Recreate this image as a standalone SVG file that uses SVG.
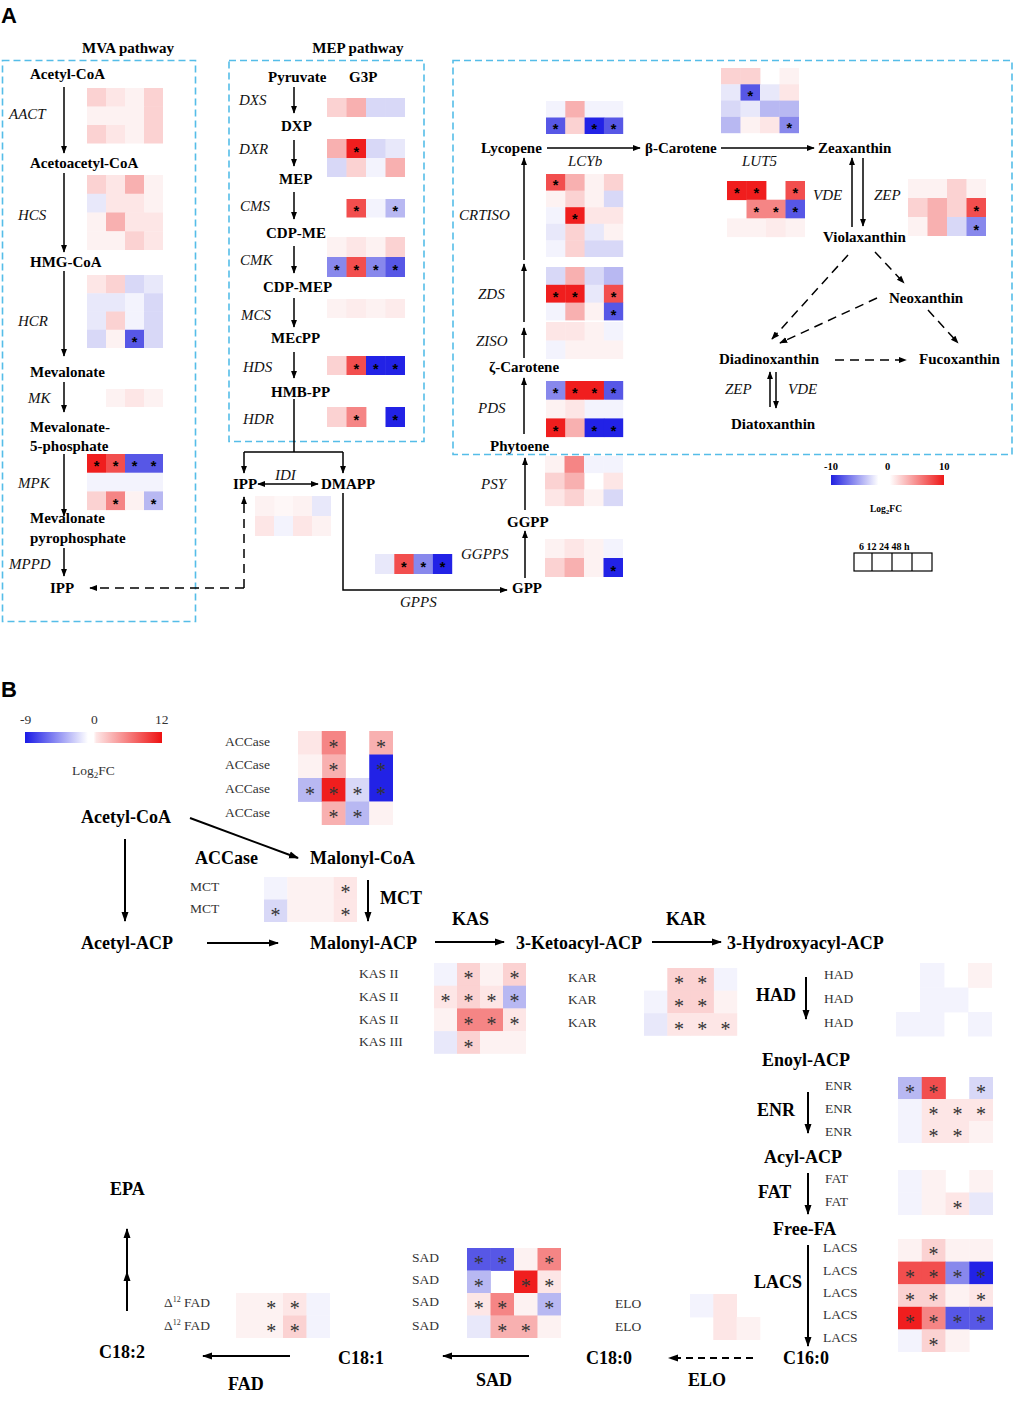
<svg xmlns="http://www.w3.org/2000/svg" width="1014" height="1413" viewBox="0 0 1014 1413">
<style>
.n{font-family:"Liberation Serif",serif;font-weight:bold;font-size:15px;fill:#000}
.g{font-family:"Liberation Serif",serif;font-style:italic;font-size:15px;fill:#111}
.nb{font-family:"Liberation Serif",serif;font-weight:bold;font-size:18px;fill:#000}
.gb{font-family:"Liberation Serif",serif;font-size:13.5px;fill:#333}
.sa{font-family:"Liberation Sans",sans-serif;font-weight:bold;font-size:14.5px;text-anchor:middle;fill:#000}
.sb{font-family:"Liberation Serif",serif;font-size:20px;text-anchor:middle;fill:#333}
.lab{font-family:"Liberation Sans",sans-serif;font-weight:bold;font-size:22px}
.box{fill:none;stroke:#55bde8;stroke-width:1.6;stroke-dasharray:7 4}
.ca path,.ca line{fill:none;stroke:#000;stroke-width:1.5}
.cb path{fill:none;stroke:#000;stroke-width:2}
.d{stroke-dasharray:9 6}
.r5{fill:#f01e1e}.r4{fill:#f24e4e}.r3{fill:#f58585}.r2{fill:#f8b0b0}.r1{fill:#fbd2d2}.r0{fill:#fde6e6}.rf{fill:#fdf2f2}
.b5{fill:#2222e6}.b4{fill:#5757e6}.b3{fill:#8888ec}.b2{fill:#b8b8f2}.b1{fill:#d8d8f7}.b0{fill:#e8e8fa}.bf{fill:#f3f3fd}
</style>
<defs>
<marker id="ah" viewBox="0 0 10 10" refX="9" refY="5" markerWidth="8" markerHeight="8" markerUnits="userSpaceOnUse" orient="auto-start-reverse"><path d="M0,1.2 L10,5 L0,8.8 z" fill="#000"/></marker>
<marker id="ahb" viewBox="0 0 10 10" refX="9" refY="5" markerWidth="10" markerHeight="10" markerUnits="userSpaceOnUse" orient="auto-start-reverse"><path d="M0,1.5 L10,5 L0,8.5 z" fill="#000"/></marker>
<linearGradient id="gA" x1="0" x2="1" y1="0" y2="0"><stop offset="0" stop-color="#2020e0"/><stop offset="0.42" stop-color="#ffffff"/><stop offset="0.52" stop-color="#ffffff"/><stop offset="1" stop-color="#ee1818"/></linearGradient>
<linearGradient id="gB" x1="0" x2="1" y1="0" y2="0"><stop offset="0" stop-color="#1a1ae6"/><stop offset="0.46" stop-color="#ffffff"/><stop offset="0.5" stop-color="#ffffff"/><stop offset="0.52" stop-color="#fde6e6"/><stop offset="1" stop-color="#ee1111"/></linearGradient>
</defs>
<rect width="1014" height="1413" fill="#fff"/>

<!-- Panel labels -->
<text class="lab" x="1" y="23">A</text>
<text class="lab" x="1" y="697">B</text>

<!-- dashed boxes -->
<g id="boxes">
<rect class="box" x="2.5" y="60.5" width="193" height="561"/>
<rect class="box" x="229" y="60.5" width="195" height="381"/>
<rect class="box" x="453" y="60.5" width="559" height="394"/>
</g>
<text class="n" x="128" y="53" text-anchor="middle">MVA pathway</text>
<text class="n" x="358" y="53" text-anchor="middle">MEP pathway</text>

<!-- Connectors A -->
<g id="connectors-A" class="ca">
<path d="M64,87 V153" marker-end="url(#ah)"/>
<path d="M64,173 V252" marker-end="url(#ah)"/>
<path d="M64,271 V356" marker-end="url(#ah)"/>
<path d="M64,382 V412" marker-end="url(#ah)"/>
<path d="M64,454 V516" marker-end="url(#ah)"/>
<path d="M64,548 V576" marker-end="url(#ah)"/>
<path d="M294,87 V113" marker-end="url(#ah)"/>
<path d="M294,140 V166" marker-end="url(#ah)"/>
<path d="M294,192 V219" marker-end="url(#ah)"/>
<path d="M294,246 V273" marker-end="url(#ah)"/>
<path d="M294,298 V327" marker-end="url(#ah)"/>
<path d="M294,352 V378" marker-end="url(#ah)"/>
<path d="M294,399 V452"/>
<path d="M244,452 H343"/>
<path d="M244,452 V473" marker-end="url(#ah)"/>
<path d="M343,452 V473" marker-end="url(#ah)"/>
<path d="M258,484 H318" marker-start="url(#ah)" marker-end="url(#ah)"/>
<path class="d" d="M244,588 H90" marker-end="url(#ah)"/>
<path class="d" d="M244,588 V497" marker-end="url(#ah)"/>
<path d="M343,493 V590 H507" marker-end="url(#ah)"/>
<path d="M525,578 V531" marker-end="url(#ah)"/>
<path d="M525,510 V458" marker-end="url(#ah)"/>
<path d="M524,434 V378" marker-end="url(#ah)"/>
<path d="M524,358 V328" marker-end="url(#ah)"/>
<path d="M524,322 V264" marker-end="url(#ah)"/>
<path d="M524,260 V158" marker-end="url(#ah)"/>
<path d="M547,148 H640" marker-end="url(#ah)"/>
<path d="M721,148 H814" marker-end="url(#ah)"/>
<path d="M852,227 V158" marker-end="url(#ah)"/>
<path d="M863,158 V226" marker-end="url(#ah)"/>
<path class="d" d="M848,255 L772,339" marker-end="url(#ah)"/>
<path class="d" d="M875,252 L904,283" marker-end="url(#ah)"/>
<path class="d" d="M877,298 L780,343" marker-end="url(#ah)"/>
<path class="d" d="M928,310 L958,343" marker-end="url(#ah)"/>
<path class="d" d="M835,360 H906" marker-end="url(#ah)"/>
<path d="M770,407 V372" marker-end="url(#ah)"/>
<path d="M776,372 V408" marker-end="url(#ah)"/>
</g>

<!-- MVA nodes -->
<g id="mva-nodes">
<text class="n" x="30" y="79">Acetyl-CoA</text>
<text class="n" x="30" y="168">Acetoacetyl-CoA</text>
<text class="n" x="30" y="267">HMG-CoA</text>
<text class="n" x="30" y="377">Mevalonate</text>
<text class="n" x="30" y="432">Mevalonate-</text>
<text class="n" x="30" y="451">5-phosphate</text>
<text class="n" x="30" y="523">Mevalonate</text>
<text class="n" x="30" y="543">pyrophosphate</text>
<text class="n" x="50" y="593">IPP</text>
<text class="g" x="9" y="119">AACT</text>
<text class="g" x="18" y="220">HCS</text>
<text class="g" x="18" y="326">HCR</text>
<text class="g" x="28" y="403">MK</text>
<text class="g" x="18" y="488">MPK</text>
<text class="g" x="9" y="569">MPPD</text>
</g>

<!-- MVA heatmaps -->
<g id="hm-AACT" transform="translate(87,88)">
<rect class="r1" x="0" y="0" width="19.4" height="18.9"/><rect class="r0" x="19" y="0" width="19.4" height="18.9"/><rect class="rf" x="38" y="0" width="19.4" height="18.9"/><rect class="r1" x="57" y="0" width="19" height="18.9"/>
<rect class="rf" x="0" y="18.5" width="19.4" height="18.9"/><rect class="rf" x="19" y="18.5" width="19.4" height="18.9"/><rect class="rf" x="38" y="18.5" width="19.4" height="18.9"/><rect class="r1" x="57" y="18.5" width="19" height="18.9"/>
<rect class="r1" x="0" y="37" width="19.4" height="18.5"/><rect class="r0" x="19" y="37" width="19.4" height="18.5"/><rect class="rf" x="38" y="37" width="19.4" height="18.5"/><rect class="r1" x="57" y="37" width="19" height="18.5"/>
</g>
<g id="hm-HCS" transform="translate(87,175)">
<rect class="r1" x="0" y="0" width="19.4" height="19.1"/><rect class="r0" x="19" y="0" width="19.4" height="19.1"/><rect class="r2" x="38" y="0" width="19.4" height="19.1"/><rect class="rf" x="57" y="0" width="19" height="19.1"/>
<rect class="b0" x="0" y="18.75" width="19.4" height="19.1"/><rect class="r0" x="19" y="18.75" width="19.4" height="19.1"/><rect class="r0" x="38" y="18.75" width="19.4" height="19.1"/><rect class="rf" x="57" y="18.75" width="19" height="19.1"/>
<rect class="rf" x="0" y="37.5" width="19.4" height="19.1"/><rect class="r2" x="19" y="37.5" width="19.4" height="19.1"/><rect class="r0" x="38" y="37.5" width="19.4" height="19.1"/><rect class="r0" x="57" y="37.5" width="19" height="19.1"/>
<rect class="rf" x="0" y="56.25" width="19.4" height="18.75"/><rect class="rf" x="19" y="56.25" width="19.4" height="18.75"/><rect class="r1" x="38" y="56.25" width="19.4" height="18.75"/><rect class="r0" x="57" y="56.25" width="19" height="18.75"/>
</g>
<g id="hm-HCR" transform="translate(87,275)">
<rect class="r0" x="0" y="0" width="19.4" height="18.6"/><rect class="r1" x="19" y="0" width="19.4" height="18.6"/><rect class="b1" x="38" y="0" width="19.4" height="18.6"/><rect class="b0" x="57" y="0" width="19" height="18.6"/>
<rect class="b0" x="0" y="18.25" width="19.4" height="18.6"/><rect class="b0" x="19" y="18.25" width="19.4" height="18.6"/><rect class="bf" x="38" y="18.25" width="19.4" height="18.6"/><rect class="b1" x="57" y="18.25" width="19" height="18.6"/>
<rect class="b0" x="0" y="36.5" width="19.4" height="18.6"/><rect class="r1" x="19" y="36.5" width="19.4" height="18.6"/><rect class="bf" x="38" y="36.5" width="19.4" height="18.6"/><rect class="b1" x="57" y="36.5" width="19" height="18.6"/>
<rect class="b1" x="0" y="54.75" width="19.4" height="18.25"/><rect class="rf" x="19" y="54.75" width="19.4" height="18.25"/><rect class="b4" x="38" y="54.75" width="19.4" height="18.25"/><rect class="b1" x="57" y="54.75" width="19" height="18.25"/>
<text class="sa" x="47.5" y="72">*</text>
</g>
<g id="hm-MK" transform="translate(87,389)">
<rect class="rf" x="19" y="0" width="19.4" height="18"/><rect class="r0" x="38" y="0" width="19.4" height="18"/><rect class="rf" x="57" y="0" width="19" height="18"/>
</g>
<g id="hm-MPK" transform="translate(87,454)">
<rect class="r5" x="0" y="0" width="19.4" height="19"/><rect class="r4" x="19" y="0" width="19.4" height="19"/><rect class="b4" x="38" y="0" width="19.4" height="19"/><rect class="b4" x="57" y="0" width="19" height="19"/>
<rect class="bf" x="0" y="18.7" width="76" height="19"/>
<rect class="r1" x="0" y="37.4" width="19.4" height="18.7"/><rect class="r3" x="19" y="37.4" width="19.4" height="18.7"/><rect class="rf" x="38" y="37.4" width="19.4" height="18.7"/><rect class="b2" x="57" y="37.4" width="19" height="18.7"/>
<text class="sa" x="9.5" y="17.4">*</text><text class="sa" x="28.5" y="17.4">*</text><text class="sa" x="47.5" y="17.4">*</text><text class="sa" x="66.5" y="17.4">*</text>
<text class="sa" x="28.5" y="54.8">*</text><text class="sa" x="66.5" y="54.8">*</text>
</g>

<!-- MEP nodes -->
<g id="mep-nodes">
<text class="n" x="268" y="82">Pyruvate</text>
<text class="n" x="349" y="82">G3P</text>
<text class="n" x="281" y="131">DXP</text>
<text class="n" x="279" y="184">MEP</text>
<text class="n" x="266" y="238">CDP-ME</text>
<text class="n" x="263" y="292">CDP-MEP</text>
<text class="n" x="271" y="343">MEcPP</text>
<text class="n" x="271" y="397">HMB-PP</text>
<text class="g" x="239" y="105">DXS</text>
<text class="g" x="239" y="154">DXR</text>
<text class="g" x="240" y="211">CMS</text>
<text class="g" x="240" y="265">CMK</text>
<text class="g" x="241" y="320">MCS</text>
<text class="g" x="243" y="372">HDS</text>
<text class="g" x="243" y="424">HDR</text>
<text class="n" x="233" y="489">IPP</text>
<text class="n" x="321" y="489">DMAPP</text>
<text class="g" x="275" y="480">IDI</text>
</g>

<!-- MEP heatmaps -->
<g id="hm-DXS" transform="translate(327,98)">
<rect class="r1" x="0" y="0" width="19.9" height="19"/><rect class="r2" x="19.5" y="0" width="19.9" height="19"/><rect class="b1" x="39" y="0" width="19.9" height="19"/><rect class="b1" x="58.5" y="0" width="19.5" height="19"/>
</g>
<g id="hm-DXR" transform="translate(327,139)">
<rect class="r2" x="0" y="0" width="19.9" height="19.4"/><rect class="r5" x="19.5" y="0" width="19.9" height="19.4"/><rect class="b1" x="39" y="0" width="19.9" height="19.4"/><rect class="b0" x="58.5" y="0" width="19.5" height="19.4"/>
<rect class="b1" x="0" y="19" width="19.9" height="19"/><rect class="r1" x="19.5" y="19" width="19.9" height="19"/><rect class="bf" x="39" y="19" width="19.9" height="19"/><rect class="r2" x="58.5" y="19" width="19.5" height="19"/>
<text class="sa" x="29.25" y="17.5">*</text>
</g>
<g id="hm-CMS" transform="translate(327,199)">
<rect class="r4" x="19.5" y="0" width="19.9" height="18.5"/><rect class="bf" x="39" y="0" width="19.9" height="18.5"/><rect class="b2" x="58.5" y="0" width="19.5" height="18.5"/>
<text class="sa" x="29.25" y="17.3">*</text><text class="sa" x="68.25" y="17.3">*</text>
</g>
<g id="hm-CMK" transform="translate(327,237)">
<rect class="rf" x="0" y="0" width="19.9" height="20.4"/><rect class="r0" x="19.5" y="0" width="19.9" height="20.4"/><rect class="rf" x="39" y="0" width="19.9" height="20.4"/><rect class="r1" x="58.5" y="0" width="19.5" height="20.4"/>
<rect class="b3" x="0" y="20" width="19.9" height="20"/><rect class="r4" x="19.5" y="20" width="19.9" height="20"/><rect class="b3" x="39" y="20" width="19.9" height="20"/><rect class="b4" x="58.5" y="20" width="19.5" height="20"/>
<text class="sa" x="9.75" y="38">*</text><text class="sa" x="29.25" y="38">*</text><text class="sa" x="48.75" y="38">*</text><text class="sa" x="68.25" y="38">*</text>
</g>
<g id="hm-MCS" transform="translate(327,299)">
<rect class="rf" x="0" y="0" width="78" height="19"/><rect class="r0" x="19.5" y="0" width="19.5" height="19" opacity="0.5"/><rect class="r0" x="58.5" y="0" width="19.5" height="19" opacity="0.6"/>
</g>
<g id="hm-HDS" transform="translate(327,356)">
<rect class="r1" x="0" y="0" width="19.9" height="19"/><rect class="r4" x="19.5" y="0" width="19.9" height="19"/><rect class="b5" x="39" y="0" width="19.9" height="19"/><rect class="b5" x="58.5" y="0" width="19.5" height="19"/>
<text class="sa" x="29.25" y="17.5">*</text><text class="sa" x="48.75" y="17.5">*</text><text class="sa" x="68.25" y="17.5">*</text>
</g>
<g id="hm-HDR" transform="translate(327,407)">
<rect class="r1" x="0" y="0" width="19.9" height="20"/><rect class="r3" x="19.5" y="0" width="19.9" height="20"/><rect class="b5" x="58.5" y="0" width="19.5" height="20"/>
<text class="sa" x="29.25" y="18">*</text><text class="sa" x="68.25" y="18">*</text>
</g>
<g id="hm-IDI" transform="translate(255,496)">
<rect class="rf" x="0" y="0" width="19.4" height="20.4"/><rect class="rf" x="19" y="0" width="19.4" height="20.4" opacity="0.6"/><rect class="rf" x="38" y="0" width="19.4" height="20.4"/><rect class="b0" x="57" y="0" width="19" height="20.4"/>
<rect class="r0" x="0" y="20" width="19.4" height="20"/><rect class="bf" x="19" y="20" width="19.4" height="20"/><rect class="r0" x="38" y="20" width="19.4" height="20"/><rect class="rf" x="57" y="20" width="19" height="20"/>
</g>

<!-- Carotenoid nodes -->
<g id="car-nodes">
<text class="n" x="512" y="593">GPP</text>
<text class="n" x="507" y="527">GGPP</text>
<text class="g" x="400" y="607">GPPS</text>
<text class="g" x="461" y="559">GGPPS</text>
<text class="g" x="481" y="489">PSY</text>
<text class="n" x="490" y="451">Phytoene</text>
<text class="n" x="489" y="372">ζ-Carotene</text>
<text class="n" x="481" y="153">Lycopene</text>
<text class="n" x="645" y="153">β-Carotene</text>
<text class="g" x="568" y="166">LCYb</text>
<text class="g" x="459" y="220">CRTISO</text>
<text class="g" x="478" y="299">ZDS</text>
<text class="g" x="476" y="346">ZISO</text>
<text class="g" x="478" y="413">PDS</text>
<text class="n" x="818" y="153">Zeaxanthin</text>
<text class="g" x="742" y="166">LUT5</text>
<text class="g" x="813" y="200">VDE</text>
<text class="g" x="874" y="200">ZEP</text>
<text class="n" x="823" y="242">Violaxanthin</text>
<text class="n" x="889" y="303">Neoxanthin</text>
<text class="n" x="719" y="364">Diadinoxanthin</text>
<text class="n" x="919" y="364">Fucoxanthin</text>
<text class="g" x="725" y="394">ZEP</text>
<text class="g" x="788" y="394">VDE</text>
<text class="n" x="731" y="429">Diatoxanthin</text>
</g>

<!-- Carotenoid heatmaps -->
<g id="hm-GPPS" transform="translate(375,554)">
<rect class="b0" x="0" y="0" width="19.7" height="20"/><rect class="r4" x="19.3" y="0" width="19.7" height="20"/><rect class="b3" x="38.6" y="0" width="19.7" height="20"/><rect class="b5" x="57.9" y="0" width="19.3" height="20"/>
<text class="sa" x="28.95" y="18">*</text><text class="sa" x="48.25" y="18">*</text><text class="sa" x="67.55" y="18">*</text>
</g>
<g id="hm-PSY" transform="translate(545,456)">
<rect class="rf" x="0" y="0" width="19.9" height="17.1"/><rect class="r3" x="19.5" y="0" width="19.9" height="17.1"/><rect class="bf" x="39" y="0" width="19.9" height="17.1"/><rect class="bf" x="58.5" y="0" width="19.5" height="17.1"/>
<rect class="r1" x="0" y="16.7" width="19.9" height="17.1"/><rect class="r2" x="19.5" y="16.7" width="19.9" height="17.1"/><rect class="r0" x="58.5" y="16.7" width="19.5" height="17.1"/>
<rect class="r0" x="0" y="33.4" width="19.9" height="16.7"/><rect class="r1" x="19.5" y="33.4" width="19.9" height="16.7"/><rect class="rf" x="39" y="33.4" width="19.9" height="16.7"/><rect class="b1" x="58.5" y="33.4" width="19.5" height="16.7"/>
</g>
<g id="hm-GGPPS" transform="translate(545,539)">
<rect class="rf" x="0" y="0" width="19.9" height="19.4"/><rect class="r0" x="19.5" y="0" width="19.9" height="19.4"/><rect class="rf" x="39" y="0" width="19.9" height="19.4"/><rect class="bf" x="58.5" y="0" width="19.5" height="19.4"/>
<rect class="r1" x="0" y="19" width="19.9" height="19"/><rect class="r2" x="19.5" y="19" width="19.9" height="19"/><rect class="rf" x="39" y="19" width="19.9" height="19"/><rect class="b5" x="58.5" y="19" width="19.5" height="19"/>
<text class="sa" x="68.25" y="36.5">*</text>
</g>
<g id="hm-LCYb" transform="translate(546,101)">
<rect class="bf" x="0" y="0" width="19.7" height="16.9"/><rect class="r2" x="19.3" y="0" width="19.7" height="16.9"/><rect class="bf" x="38.6" y="0" width="19.7" height="16.9"/><rect class="bf" x="57.9" y="0" width="19.3" height="16.9"/>
<rect class="b4" x="0" y="16.5" width="19.7" height="16.5"/><rect class="r1" x="19.3" y="16.5" width="19.7" height="16.5"/><rect class="b5" x="38.6" y="16.5" width="19.7" height="16.5"/><rect class="b4" x="57.9" y="16.5" width="19.3" height="16.5"/>
<text class="sa" x="9.65" y="32.5">*</text><text class="sa" x="48.25" y="32.5">*</text><text class="sa" x="67.55" y="32.5">*</text>
</g>
<g id="hm-CRTISO" transform="translate(546,174)">
<rect class="r4" x="0" y="0" width="19.7" height="17"/><rect class="r2" x="19.3" y="0" width="19.7" height="17"/><rect class="rf" x="38.6" y="0" width="19.7" height="17"/><rect class="r1" x="57.9" y="0" width="19.3" height="17"/>
<rect class="rf" x="0" y="16.6" width="19.7" height="17"/><rect class="r1" x="19.3" y="16.6" width="19.7" height="17"/><rect class="rf" x="38.6" y="16.6" width="19.7" height="17"/><rect class="b1" x="57.9" y="16.6" width="19.3" height="17"/>
<rect class="bf" x="0" y="33.2" width="19.7" height="17"/><rect class="r5" x="19.3" y="33.2" width="19.7" height="17"/><rect class="r0" x="38.6" y="33.2" width="19.7" height="17"/><rect class="r0" x="57.9" y="33.2" width="19.3" height="17"/>
<rect class="b0" x="0" y="49.8" width="19.7" height="17"/><rect class="r1" x="19.3" y="49.8" width="19.7" height="17"/><rect class="b0" x="38.6" y="49.8" width="19.7" height="17"/><rect class="rf" x="57.9" y="49.8" width="19.3" height="17"/>
<rect class="bf" x="0" y="66.4" width="19.7" height="16.6"/><rect class="r1" x="19.3" y="66.4" width="19.7" height="16.6"/><rect class="b1" x="38.6" y="66.4" width="19.7" height="16.6"/><rect class="b1" x="57.9" y="66.4" width="19.3" height="16.6"/>
<text class="sa" x="9.65" y="16.3">*</text><text class="sa" x="28.95" y="49.5">*</text>
</g>
<g id="hm-ZDS" transform="translate(546,267)">
<rect class="b1" x="0" y="0" width="19.7" height="18.2"/><rect class="r2" x="19.3" y="0" width="19.7" height="18.2"/><rect class="b1" x="38.6" y="0" width="19.7" height="18.2"/><rect class="b2" x="57.9" y="0" width="19.3" height="18.2"/>
<rect class="r5" x="0" y="17.8" width="19.7" height="18.2"/><rect class="r5" x="19.3" y="17.8" width="19.7" height="18.2"/><rect class="b0" x="38.6" y="17.8" width="19.7" height="18.2"/><rect class="r4" x="57.9" y="17.8" width="19.3" height="18.2"/>
<rect class="bf" x="0" y="35.6" width="19.7" height="17.8"/><rect class="r2" x="19.3" y="35.6" width="19.7" height="17.8"/><rect class="rf" x="38.6" y="35.6" width="19.7" height="17.8"/><rect class="b4" x="57.9" y="35.6" width="19.3" height="17.8"/>
<text class="sa" x="9.65" y="34.7">*</text><text class="sa" x="28.95" y="34.7">*</text><text class="sa" x="67.55" y="34.7">*</text><text class="sa" x="67.55" y="52.5">*</text>
</g>
<g id="hm-ZISO" transform="translate(546,322)">
<rect class="r0" x="0" y="0" width="19.7" height="18.9"/><rect class="r0" x="19.3" y="0" width="19.7" height="18.9"/><rect class="rf" x="38.6" y="0" width="19.7" height="18.9"/><rect class="bf" x="57.9" y="0" width="19.3" height="18.9"/>
<rect class="bf" x="0" y="18.5" width="19.7" height="18.5"/><rect class="rf" x="19.3" y="18.5" width="19.7" height="18.5"/><rect class="rf" x="38.6" y="18.5" width="19.7" height="18.5"/><rect class="rf" x="57.9" y="18.5" width="19.3" height="18.5"/>
</g>
<g id="hm-PDS" transform="translate(546,381)">
<rect class="b3" x="0" y="0" width="19.7" height="19.1"/><rect class="r5" x="19.3" y="0" width="19.7" height="19.1"/><rect class="r5" x="38.6" y="0" width="19.7" height="19.1"/><rect class="b4" x="57.9" y="0" width="19.3" height="19.1"/>
<rect class="rf" x="0" y="18.7" width="19.7" height="19.1"/><rect class="r0" x="19.3" y="18.7" width="19.7" height="19.1"/><rect class="bf" x="38.6" y="18.7" width="19.7" height="19.1"/><rect class="bf" x="57.9" y="18.7" width="19.3" height="19.1"/>
<rect class="r5" x="0" y="37.4" width="19.7" height="18.7"/><rect class="r2" x="19.3" y="37.4" width="19.7" height="18.7"/><rect class="b5" x="38.6" y="37.4" width="19.7" height="18.7"/><rect class="b5" x="57.9" y="37.4" width="19.3" height="18.7"/>
<text class="sa" x="9.65" y="17.4">*</text><text class="sa" x="28.95" y="17.4">*</text><text class="sa" x="48.25" y="17.4">*</text><text class="sa" x="67.55" y="17.4">*</text>
<text class="sa" x="9.65" y="54.8">*</text><text class="sa" x="48.25" y="54.8">*</text><text class="sa" x="67.55" y="54.8">*</text>
</g>
<g id="hm-LUT5" transform="translate(721,68)">
<rect class="r1" x="0" y="0" width="19.9" height="16.7"/><rect class="r1" x="19.5" y="0" width="19.9" height="16.7"/><rect class="rf" x="58.5" y="0" width="19.5" height="16.7"/>
<rect class="b0" x="0" y="16.3" width="19.9" height="16.7"/><rect class="b4" x="19.5" y="16.3" width="19.9" height="16.7"/><rect class="b0" x="39" y="16.3" width="19.9" height="16.7"/><rect class="r0" x="58.5" y="16.3" width="19.5" height="16.7"/>
<rect class="b1" x="0" y="32.6" width="19.9" height="16.7"/><rect class="b0" x="19.5" y="32.6" width="19.9" height="16.7"/><rect class="b2" x="39" y="32.6" width="19.9" height="16.7"/><rect class="b2" x="58.5" y="32.6" width="19.5" height="16.7"/>
<rect class="b2" x="0" y="48.9" width="19.9" height="16.3"/><rect class="rf" x="19.5" y="48.9" width="19.9" height="16.3"/><rect class="r0" x="39" y="48.9" width="19.9" height="16.3"/><rect class="b3" x="58.5" y="48.9" width="19.5" height="16.3"/>
<text class="sa" x="29.25" y="32.5">*</text><text class="sa" x="68.25" y="65">*</text>
</g>
<g id="hm-VDE" transform="translate(727,181)">
<rect class="r5" x="0" y="0" width="19.9" height="19.1"/><rect class="r5" x="19.5" y="0" width="19.9" height="19.1"/><rect class="r4" x="58.5" y="0" width="19.5" height="19.1"/>
<rect class="r3" x="19.5" y="18.7" width="19.9" height="19.1"/><rect class="r3" x="39" y="18.7" width="19.9" height="19.1"/><rect class="b4" x="58.5" y="18.7" width="19.5" height="19.1"/>
<rect class="rf" x="0" y="37.4" width="78" height="18.7"/><rect class="r0" x="39" y="37.4" width="19.5" height="18.7" opacity="0.6"/>
<text class="sa" x="9.75" y="17.4">*</text><text class="sa" x="29.25" y="17.4">*</text><text class="sa" x="68.25" y="17.4">*</text>
<text class="sa" x="29.25" y="36">*</text><text class="sa" x="48.75" y="36">*</text><text class="sa" x="68.25" y="36">*</text>
</g>
<g id="hm-ZEP" transform="translate(908,179)">
<rect class="rf" x="0" y="0" width="19.9" height="19.4"/><rect class="rf" x="19.5" y="0" width="19.9" height="19.4"/><rect class="r1" x="39" y="0" width="19.9" height="19.4"/><rect class="rf" x="58.5" y="0" width="19.5" height="19.4"/>
<rect class="r1" x="0" y="19" width="19.9" height="19.4"/><rect class="r2" x="19.5" y="19" width="19.9" height="19.4"/><rect class="r1" x="39" y="19" width="19.9" height="19.4"/><rect class="r4" x="58.5" y="19" width="19.5" height="19.4"/>
<rect class="rf" x="0" y="38" width="19.9" height="19"/><rect class="r2" x="19.5" y="38" width="19.9" height="19"/><rect class="b1" x="39" y="38" width="19.9" height="19"/><rect class="b3" x="58.5" y="38" width="19.5" height="19"/>
<text class="sa" x="68.25" y="36.5">*</text><text class="sa" x="68.25" y="55.5">*</text>
</g>

<!-- Legend A -->
<g id="legend-A">
<text x="824" y="470" font-family="Liberation Serif, serif" font-weight="bold" font-size="10.5">-10</text>
<text x="885" y="470" font-family="Liberation Serif, serif" font-weight="bold" font-size="10.5">0</text>
<text x="939" y="470" font-family="Liberation Serif, serif" font-weight="bold" font-size="10.5">10</text>
<rect x="831" y="475" width="113" height="10" fill="url(#gA)"/>
<text x="870" y="512" font-family="Liberation Serif, serif" font-weight="bold" font-size="9.5">Log<tspan font-size="7" dy="2">2</tspan><tspan dy="-2">FC</tspan></text>
<text x="859" y="550" font-family="Liberation Serif, serif" font-weight="bold" font-size="10">6 12 24 48 h</text>
<rect x="854" y="553" width="78" height="18" fill="none" stroke="#000" stroke-width="1.2"/>
<path d="M872,553 V571 M892,553 V571 M912,553 V571" stroke="#000" stroke-width="1.2"/>
</g>

<!-- ================= Panel B ================= -->
<g id="legend-B">
<text class="gb" x="20" y="724" fill="#333">-9</text>
<text class="gb" x="91" y="724">0</text>
<text class="gb" x="155" y="724">12</text>
<rect x="25" y="732" width="137" height="11" fill="url(#gB)"/>
<text class="gb" x="72" y="775">Log<tspan font-size="9" dy="3">2</tspan><tspan dy="-3">FC</tspan></text>
</g>

<g id="connectors-B" class="cb">
<path d="M190,818 L298,858" marker-end="url(#ahb)"/>
<path d="M125,839 V921" marker-end="url(#ahb)"/>
<path d="M207,943 H278" marker-end="url(#ahb)"/>
<path d="M368,880 V921" marker-end="url(#ahb)"/>
<path d="M435,942 H504" marker-end="url(#ahb)"/>
<path d="M652,942 H721" marker-end="url(#ahb)"/>
<path d="M806,977 V1019" marker-end="url(#ahb)"/>
<path d="M808,1092 V1133" marker-end="url(#ahb)"/>
<path d="M808,1173 V1214" marker-end="url(#ahb)"/>
<path d="M808,1245 V1346" marker-end="url(#ahb)"/>
<path class="d" d="M753,1358 H669" style="stroke-dasharray:7 5" marker-end="url(#ahb)"/>
<path d="M529,1356 H443" marker-end="url(#ahb)"/>
<path d="M290,1356 H203" marker-end="url(#ahb)"/>
<path d="M127,1311 V1272" marker-end="url(#ahb)"/>
<path d="M127,1272 V1229" marker-end="url(#ahb)"/>
</g>

<g id="fa-nodes">
<text class="nb" x="81" y="823">Acetyl-CoA</text>
<text class="nb" x="195" y="864">ACCase</text>
<text class="nb" x="310" y="864">Malonyl-CoA</text>
<text class="nb" x="81" y="949">Acetyl-ACP</text>
<text class="nb" x="310" y="949">Malonyl-ACP</text>
<text class="nb" x="380" y="904">MCT</text>
<text class="nb" x="452" y="925">KAS</text>
<text class="nb" x="666" y="925">KAR</text>
<text class="nb" x="516" y="949">3-Ketoacyl-ACP</text>
<text class="nb" x="727" y="949">3-Hydroxyacyl-ACP</text>
<text class="nb" x="756" y="1001">HAD</text>
<text class="nb" x="762" y="1066">Enoyl-ACP</text>
<text class="nb" x="757" y="1116">ENR</text>
<text class="nb" x="764" y="1163">Acyl-ACP</text>
<text class="nb" x="758" y="1198">FAT</text>
<text class="nb" x="773" y="1235">Free-FA</text>
<text class="nb" x="754" y="1288">LACS</text>
<text class="nb" x="783" y="1364">C16:0</text>
<text class="nb" x="586" y="1364">C18:0</text>
<text class="nb" x="688" y="1386">ELO</text>
<text class="nb" x="338" y="1364">C18:1</text>
<text class="nb" x="476" y="1386">SAD</text>
<text class="nb" x="99" y="1358">C18:2</text>
<text class="nb" x="228" y="1390">FAD</text>
<text class="nb" x="110" y="1195">EPA</text>
</g>

<g id="gene-labels-B">
<text class="gb" x="225" y="746">ACCase</text>
<text class="gb" x="225" y="769">ACCase</text>
<text class="gb" x="225" y="793">ACCase</text>
<text class="gb" x="225" y="817">ACCase</text>
<text class="gb" x="190" y="891">MCT</text>
<text class="gb" x="190" y="913">MCT</text>
<text class="gb" x="359" y="978">KAS II</text>
<text class="gb" x="359" y="1001">KAS II</text>
<text class="gb" x="359" y="1024">KAS II</text>
<text class="gb" x="359" y="1046">KAS III</text>
<text class="gb" x="568" y="982">KAR</text>
<text class="gb" x="568" y="1004">KAR</text>
<text class="gb" x="568" y="1027">KAR</text>
<text class="gb" x="824" y="979">HAD</text>
<text class="gb" x="824" y="1003">HAD</text>
<text class="gb" x="824" y="1027">HAD</text>
<text class="gb" x="825" y="1090">ENR</text>
<text class="gb" x="825" y="1113">ENR</text>
<text class="gb" x="825" y="1136">ENR</text>
<text class="gb" x="825" y="1183">FAT</text>
<text class="gb" x="825" y="1206">FAT</text>
<text class="gb" x="823" y="1252">LACS</text>
<text class="gb" x="823" y="1275">LACS</text>
<text class="gb" x="823" y="1297">LACS</text>
<text class="gb" x="823" y="1319">LACS</text>
<text class="gb" x="823" y="1342">LACS</text>
<text class="gb" x="412" y="1262">SAD</text>
<text class="gb" x="412" y="1284">SAD</text>
<text class="gb" x="412" y="1306">SAD</text>
<text class="gb" x="412" y="1330">SAD</text>
<text class="gb" x="164" y="1307">Δ<tspan font-size="8" dy="-5">12</tspan><tspan dy="5"> FAD</tspan></text>
<text class="gb" x="164" y="1330">Δ<tspan font-size="8" dy="-5">12</tspan><tspan dy="5"> FAD</tspan></text>
<text class="gb" x="615" y="1308">ELO</text>
<text class="gb" x="615" y="1331">ELO</text>
</g>

<!-- B heatmaps -->
<g id="hm-ACCase" transform="translate(298,731)">
<rect class="r0" x="0" y="0" width="24.1" height="23.9"/><rect class="r3" x="23.75" y="0" width="24.1" height="23.9"/><rect class="r2" x="71.25" y="0" width="23.75" height="23.9"/>
<rect class="r2" x="23.75" y="23.5" width="24.1" height="23.9"/><rect class="b5" x="71.25" y="23.5" width="23.75" height="23.9"/><rect class="rf" x="0" y="23.5" width="24.1" height="23.9"/>
<rect class="b2" x="0" y="47" width="24.1" height="23.9"/><rect class="r5" x="23.75" y="47" width="24.1" height="23.9"/><rect class="b1" x="47.5" y="47" width="24.1" height="23.9"/><rect class="b5" x="71.25" y="47" width="23.75" height="23.9"/>
<rect class="r2" x="23.75" y="70.5" width="24.1" height="23.5"/><rect class="b2" x="47.5" y="70.5" width="24.1" height="23.5"/><rect class="rf" x="71.25" y="70.5" width="23.75" height="23.5"/>
<text class="sb" x="35.6" y="22.8">*</text><text class="sb" x="83.1" y="22.8">*</text>
<text class="sb" x="35.6" y="46.3">*</text><text class="sb" x="83.1" y="46.3">*</text>
<text class="sb" x="11.9" y="69.8">*</text><text class="sb" x="35.6" y="69.8">*</text><text class="sb" x="59.4" y="69.8">*</text><text class="sb" x="83.1" y="69.8">*</text>
<text class="sb" x="35.6" y="93.3">*</text><text class="sb" x="59.4" y="93.3">*</text>
</g>
<g id="hm-MCT" transform="translate(264,877)">
<rect class="bf" x="0" y="0" width="23.6" height="22.9"/><rect class="rf" x="23.25" y="0" width="46.9" height="22.9"/><rect class="r0" x="69.75" y="0" width="23.25" height="22.9"/>
<rect class="b1" x="0" y="22.5" width="23.6" height="22.5"/><rect class="rf" x="23.25" y="22.5" width="46.9" height="22.5"/><rect class="r0" x="69.75" y="22.5" width="23.25" height="22.5"/>
<text class="sb" x="81.4" y="22.3">*</text><text class="sb" x="11.6" y="44.8">*</text><text class="sb" x="81.4" y="44.8">*</text>
</g>
<g id="hm-KAS" transform="translate(434,963)">
<rect class="bf" x="0" y="0" width="23.4" height="23.1"/><rect class="r1" x="23" y="0" width="23.4" height="23.1"/><rect class="rf" x="46" y="0" width="23.4" height="23.1"/><rect class="r1" x="69" y="0" width="23" height="23.1"/>
<rect class="r0" x="0" y="22.7" width="23.4" height="23.1"/><rect class="r1" x="23" y="22.7" width="23.4" height="23.1"/><rect class="r0" x="46" y="22.7" width="23.4" height="23.1"/><rect class="b2" x="69" y="22.7" width="23" height="23.1"/>
<rect class="rf" x="0" y="45.4" width="23.4" height="23.1"/><rect class="r3" x="23" y="45.4" width="23.4" height="23.1"/><rect class="r3" x="46" y="45.4" width="23.4" height="23.1"/><rect class="r0" x="69" y="45.4" width="23" height="23.1"/>
<rect class="b0" x="0" y="68.1" width="23.4" height="22.7"/><rect class="r1" x="23" y="68.1" width="23.4" height="22.7"/><rect class="rf" x="46" y="68.1" width="23.4" height="22.7"/><rect class="rf" x="69" y="68.1" width="23" height="22.7"/>
<text class="sb" x="34.5" y="22.4">*</text><text class="sb" x="80.5" y="22.4">*</text>
<text class="sb" x="11.5" y="45.1">*</text><text class="sb" x="34.5" y="45.1">*</text><text class="sb" x="57.5" y="45.1">*</text><text class="sb" x="80.5" y="45.1">*</text>
<text class="sb" x="34.5" y="67.8">*</text><text class="sb" x="57.5" y="67.8">*</text><text class="sb" x="80.5" y="67.8">*</text>
<text class="sb" x="34.5" y="90.5">*</text>
</g>
<g id="hm-KAR" transform="translate(644,968)">
<rect class="r1" x="23.3" y="0" width="23.7" height="23"/><rect class="r1" x="46.6" y="0" width="23.7" height="23"/><rect class="bf" x="69.9" y="0" width="23.3" height="23"/>
<rect class="bf" x="0" y="22.6" width="23.7" height="23"/><rect class="r1" x="23.3" y="22.6" width="23.7" height="23"/><rect class="r1" x="46.6" y="22.6" width="23.7" height="23"/><rect class="rf" x="69.9" y="22.6" width="23.3" height="23"/>
<rect class="b0" x="0" y="45.2" width="23.7" height="22.6"/><rect class="r0" x="23.3" y="45.2" width="23.7" height="22.6"/><rect class="r0" x="46.6" y="45.2" width="23.7" height="22.6"/><rect class="r0" x="69.9" y="45.2" width="23.3" height="22.6"/>
<text class="sb" x="35" y="22.3">*</text><text class="sb" x="58.3" y="22.3">*</text>
<text class="sb" x="35" y="44.9">*</text><text class="sb" x="58.3" y="44.9">*</text>
<text class="sb" x="35" y="67.5">*</text><text class="sb" x="58.3" y="67.5">*</text><text class="sb" x="81.6" y="67.5">*</text>
</g>
<g id="hm-HAD" transform="translate(896,963)">
<rect class="bf" x="24" y="0" width="24.4" height="24.9"/><rect class="rf" x="72" y="0" width="24" height="24.9"/>
<rect class="bf" x="24" y="24.5" width="48.4" height="24.9"/>
<rect class="bf" x="0" y="49" width="48.4" height="24.5"/><rect class="bf" x="72" y="49" width="24" height="24.5"/>
</g>
<g id="hm-ENR" transform="translate(898,1077)">
<rect class="b2" x="0" y="0" width="24.1" height="22.4"/><rect class="r4" x="23.75" y="0" width="24.1" height="22.4"/><rect class="b1" x="71.25" y="0" width="23.75" height="22.4"/>
<rect class="bf" x="0" y="22" width="24.1" height="22.4"/><rect class="r0" x="23.75" y="22" width="71.25" height="22.4"/>
<rect class="bf" x="0" y="44" width="24.1" height="22"/><rect class="r0" x="23.75" y="44" width="47.9" height="22"/><rect class="rf" x="71.25" y="44" width="23.75" height="22"/>
<text class="sb" x="11.9" y="22">*</text><text class="sb" x="35.6" y="22">*</text><text class="sb" x="83.1" y="22">*</text>
<text class="sb" x="35.6" y="44">*</text><text class="sb" x="59.4" y="44">*</text><text class="sb" x="83.1" y="44">*</text>
<text class="sb" x="35.6" y="66">*</text><text class="sb" x="59.4" y="66">*</text>
</g>
<g id="hm-FAT" transform="translate(898,1170)">
<rect class="bf" x="0" y="0" width="24.1" height="22.9"/><rect class="rf" x="23.75" y="0" width="24.1" height="22.9"/><rect class="rf" x="71.25" y="0" width="23.75" height="22.9"/>
<rect class="bf" x="0" y="22.5" width="24.1" height="22.5"/><rect class="rf" x="23.75" y="22.5" width="24.1" height="22.5"/><rect class="r0" x="47.5" y="22.5" width="24.1" height="22.5"/><rect class="b0" x="71.25" y="22.5" width="23.75" height="22.5"/>
<text class="sb" x="59.4" y="44.8">*</text>
</g>
<g id="hm-LACS" transform="translate(898,1239)">
<rect class="rf" x="0" y="0" width="24.1" height="23"/><rect class="r1" x="23.75" y="0" width="24.1" height="23"/><rect class="rf" x="47.5" y="0" width="24.1" height="23"/><rect class="rf" x="71.25" y="0" width="23.75" height="23"/>
<rect class="r4" x="0" y="22.6" width="24.1" height="23"/><rect class="r4" x="23.75" y="22.6" width="24.1" height="23"/><rect class="b3" x="47.5" y="22.6" width="24.1" height="23"/><rect class="b5" x="71.25" y="22.6" width="23.75" height="23"/>
<rect class="r1" x="0" y="45.2" width="24.1" height="23"/><rect class="r1" x="23.75" y="45.2" width="24.1" height="23"/><rect class="rf" x="47.5" y="45.2" width="24.1" height="23"/><rect class="r0" x="71.25" y="45.2" width="23.75" height="23"/>
<rect class="r5" x="0" y="67.8" width="24.1" height="23"/><rect class="r3" x="23.75" y="67.8" width="24.1" height="23"/><rect class="b4" x="47.5" y="67.8" width="24.1" height="23"/><rect class="b4" x="71.25" y="67.8" width="23.75" height="23"/>
<rect class="bf" x="0" y="90.4" width="24.1" height="22.6"/><rect class="r1" x="23.75" y="90.4" width="24.1" height="22.6"/><rect class="rf" x="47.5" y="90.4" width="24.1" height="22.6"/>
<text class="sb" x="35.6" y="22.3">*</text>
<text class="sb" x="11.9" y="44.9">*</text><text class="sb" x="35.6" y="44.9">*</text><text class="sb" x="59.4" y="44.9">*</text><text class="sb" x="83.1" y="44.9">*</text>
<text class="sb" x="11.9" y="67.5">*</text><text class="sb" x="35.6" y="67.5">*</text><text class="sb" x="83.1" y="67.5">*</text>
<text class="sb" x="11.9" y="90.1">*</text><text class="sb" x="35.6" y="90.1">*</text><text class="sb" x="59.4" y="90.1">*</text><text class="sb" x="83.1" y="90.1">*</text>
<text class="sb" x="35.6" y="112.7">*</text>
</g>
<g id="hm-SAD" transform="translate(467,1248)">
<rect class="b4" x="0" y="0" width="23.9" height="22.9"/><rect class="b4" x="23.5" y="0" width="23.9" height="22.9"/><rect class="rf" x="47" y="0" width="23.9" height="22.9"/><rect class="r3" x="70.5" y="0" width="23.5" height="22.9"/>
<rect class="b2" x="0" y="22.5" width="23.9" height="22.9"/><rect class="r5" x="47" y="22.5" width="23.9" height="22.9"/><rect class="r0" x="70.5" y="22.5" width="23.5" height="22.9"/>
<rect class="r0" x="0" y="45" width="23.9" height="22.9"/><rect class="r3" x="23.5" y="45" width="23.9" height="22.9"/><rect class="rf" x="47" y="45" width="23.9" height="22.9"/><rect class="b2" x="70.5" y="45" width="23.5" height="22.9"/>
<rect class="b0" x="0" y="67.5" width="23.9" height="22.5"/><rect class="r2" x="23.5" y="67.5" width="23.9" height="22.5"/><rect class="r2" x="47" y="67.5" width="23.9" height="22.5"/><rect class="rf" x="70.5" y="67.5" width="23.5" height="22.5"/>
<text class="sb" x="11.75" y="22.3">*</text><text class="sb" x="35.25" y="22.3">*</text><text class="sb" x="82.25" y="22.3">*</text>
<text class="sb" x="11.75" y="44.8">*</text><text class="sb" x="58.75" y="44.8">*</text><text class="sb" x="82.25" y="44.8">*</text>
<text class="sb" x="11.75" y="67.3">*</text><text class="sb" x="35.25" y="67.3">*</text><text class="sb" x="82.25" y="67.3">*</text>
<text class="sb" x="35.25" y="89.8">*</text><text class="sb" x="58.75" y="89.8">*</text>
</g>
<g id="hm-FAD" transform="translate(236,1293)">
<rect class="rf" x="0" y="0" width="23.9" height="22.9"/><rect class="rf" x="23.5" y="0" width="23.9" height="22.9"/><rect class="r0" x="47" y="0" width="23.9" height="22.9"/><rect class="bf" x="70.5" y="0" width="23.5" height="22.9"/>
<rect class="rf" x="0" y="22.5" width="23.9" height="22.5"/><rect class="rf" x="23.5" y="22.5" width="23.9" height="22.5"/><rect class="r1" x="47" y="22.5" width="23.9" height="22.5"/><rect class="bf" x="70.5" y="22.5" width="23.5" height="22.5"/>
<text class="sb" x="35.25" y="22.3">*</text><text class="sb" x="58.75" y="22.3">*</text>
<text class="sb" x="35.25" y="44.8">*</text><text class="sb" x="58.75" y="44.8">*</text>
</g>
<g id="hm-ELO" transform="translate(690,1294)">
<rect class="bf" x="0" y="0" width="23.7" height="23.4"/><rect class="r0" x="23.3" y="0" width="23.7" height="23.4"/>
<rect class="r0" x="23.3" y="23" width="23.7" height="23"/><rect class="rf" x="46.6" y="23" width="23.7" height="23"/>
</g>
</svg>
